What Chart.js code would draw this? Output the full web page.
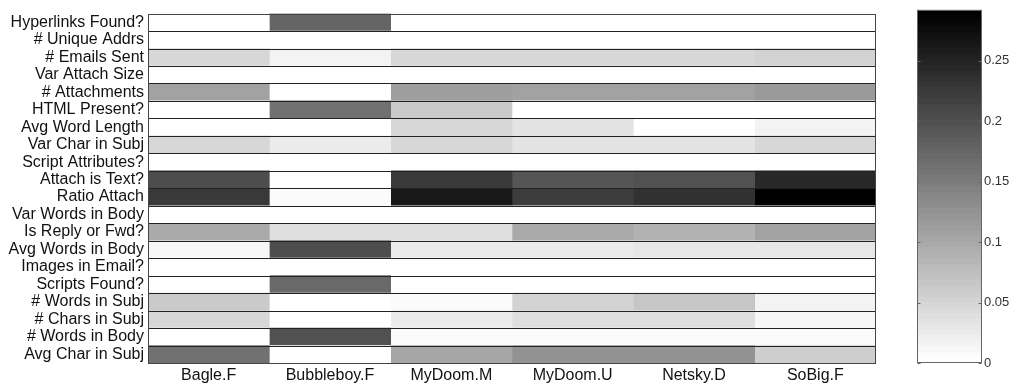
<!DOCTYPE html>
<html>
<head>
<meta charset="utf-8">
<script src="https://cdn.jsdelivr.net/npm/chart.js@4/dist/chart.umd.min.js"></script>
<style>
  html, body { margin: 0; padding: 0; background: #fff; }
  #wrap { position: relative; width: 1011px; height: 385px; }
  #heat { position: absolute; left: 0; top: 0; }
  #bar { position: absolute; left: 900px; top: 0; }
</style>
</head>
<body>
<div id="wrap">
  <canvas id="heat" width="1011" height="385"></canvas>
  <canvas id="bar" width="111" height="385"></canvas>
</div>
<script>
// Feature rows (top to bottom) and malware columns (left to right)
const features = [
  'Hyperlinks Found?', '# Unique Addrs', '# Emails Sent', 'Var Attach Size',
  '# Attachments', 'HTML Present?', 'Avg Word Length', 'Var Char in Subj',
  'Script Attributes?', 'Attach is Text?', 'Ratio Attach', 'Var Words in Body',
  'Is Reply or Fwd?', 'Avg Words in Body', 'Images in Email?', 'Scripts Found?',
  '# Words in Subj', '# Chars in Subj', '# Words in Body', 'Avg Char in Subj'
];
const malware = ['Bagle.F', 'Bubbleboy.F', 'MyDoom.M', 'MyDoom.U', 'Netsky.D', 'SoBig.F'];

// Feature weights per malware, in feature order
const bagleF     = [0, 0, 0.049, 0, 0.109, 0, 0, 0.049, 0, 0.205, 0.228, 0, 0.097, 0.010, 0, 0, 0.063, 0.049, 0, 0.161];
const bubbleboyF = [0.175, 0, 0.015, 0, 0, 0.164, 0, 0.024, 0, 0, 0.006, 0, 0.038, 0.205, 0, 0.173, 0, 0, 0.200, 0];
const myDoomM    = [0, 0, 0.047, 0, 0.111, 0.063, 0.047, 0.047, 0, 0.226, 0.262, 0, 0.038, 0.024, 0, 0, 0.006, 0.024, 0.006, 0.104];
const myDoomU    = [0, 0, 0.047, 0, 0.106, 0, 0.033, 0.035, 0, 0.195, 0.221, 0, 0.097, 0.024, 0, 0, 0.054, 0.040, 0.006, 0.127];
const netskyD    = [0, 0, 0.047, 0, 0.106, 0, 0, 0.035, 0, 0.200, 0.235, 0, 0.090, 0.029, 0, 0, 0.068, 0.038, 0.008, 0.127];
const soBigF     = [0, 0, 0.054, 0, 0.116, 0, 0.015, 0.047, 0, 0.246, 0.292, 0, 0.106, 0.031, 0, 0, 0.015, 0.013, 0.008, 0.056];

const columns = [bagleF, bubbleboyF, myDoomM, myDoomU, netskyD, soBigF];

// Colour scale range and colourbar tick labels
const scaleMin = 0;
const scaleMax = 0.292;
const barTicks = [0, 0.05, 0.1, 0.15, 0.2, 0.25];

const FONT = "'Liberation Sans', Arial, Helvetica, sans-serif";
const LEVELS = 64;

// Inverted gray colormap, quantised to 64 levels
function grayFor(v) {
  let t = (v - scaleMin) / (scaleMax - scaleMin);
  t = Math.min(1, Math.max(0, t));
  const idx = Math.min(LEVELS - 1, Math.floor(t * LEVELS));
  const g = Math.round(255 * (1 - idx / (LEVELS - 1)));
  return `rgb(${g},${g},${g})`;
}

// Each cell is a floating bar spanning one column slot on the x scale
const heatDatasets = columns.map((vals, c) => ({
  label: malware[c],
  data: features.map(() => [c, c + 1]),
  backgroundColor: ctx => grayFor(vals[ctx.dataIndex]),
  borderWidth: 0,
  barPercentage: 1,
  categoryPercentage: 1,
  grouped: false
}));

// Row separators and plot frame
const frame = {
  id: 'frame',
  afterDatasetsDraw(chart) {
    const a = chart.chartArea;
    const ctx = chart.ctx;
    ctx.save();
    ctx.strokeStyle = '#222';
    ctx.lineWidth = 1;
    const n = features.length;
    for (let i = 0; i <= n; i++) {
      const y = Math.round(a.top + (a.bottom - a.top) * i / n) + 0.5;
      ctx.beginPath();
      ctx.moveTo(a.left, y);
      ctx.lineTo(a.right, y);
      ctx.stroke();
    }
    ctx.strokeStyle = '#444';
    ctx.strokeRect(Math.round(a.left) + 0.5, Math.round(a.top) + 0.5,
                   Math.round(a.right - a.left) - 1, Math.round(a.bottom - a.top));
    ctx.restore();
  }
};

new Chart(document.getElementById('heat'), {
  type: 'bar',
  data: { labels: features, datasets: heatDatasets },
  options: {
    indexAxis: 'y',
    responsive: false,
    animation: false,
    layout: { padding: { left: 0, right: 135, top: 10, bottom: 0 } },
    plugins: { legend: { display: false }, tooltip: { enabled: false } },
    scales: {
      x: { type: 'linear', min: 0, max: malware.length, display: false },
      xNames: {
        type: 'category', labels: malware, position: 'bottom', offset: true,
        grid: { display: false, drawTicks: false }, border: { display: false },
        ticks: { color: '#111', font: { family: FONT, size: 16 }, padding: 3, maxRotation: 0 },
        afterFit: s => { s.height = 22; }
      },
      y: {
        type: 'category', offset: true,
        grid: { display: false, drawTicks: false }, border: { display: false },
        ticks: { color: '#111', font: { family: FONT, size: 16 }, padding: 4, autoSkip: false },
        afterFit: s => { s.width = 148; }
      }
    }
  },
  plugins: [frame]
});

// Colourbar frame with inward tick marks on both edges
const barFrame = {
  id: 'barFrame',
  afterDatasetsDraw(chart) {
    const a = chart.chartArea;
    const ctx = chart.ctx;
    const ys = chart.scales.y;
    ctx.save();
    ctx.strokeStyle = '#666';
    ctx.lineWidth = 1;
    const L = Math.round(a.left) + 0.5, R = Math.round(a.right) - 0.5;
    ctx.strokeRect(L, Math.round(a.top) + 0.5, R - L, Math.round(a.bottom - a.top) - 1);
    barTicks.forEach(v => {
      const y = Math.round(ys.getPixelForValue(v)) + 0.5;
      ctx.beginPath();
      ctx.moveTo(L, y); ctx.lineTo(L + 3, y);
      ctx.moveTo(R, y); ctx.lineTo(R - 3, y);
      ctx.stroke();
    });
    ctx.restore();
  }
};

new Chart(document.getElementById('bar'), {
  type: 'bar',
  data: {
    labels: [''],
    datasets: [{
      data: [[scaleMin, scaleMax]],
      borderWidth: 0,
      barPercentage: 1,
      categoryPercentage: 1,
      backgroundColor: ctx => {
        const a = ctx.chart.chartArea;
        if (!a) return '#888';
        const g = ctx.chart.ctx.createLinearGradient(0, a.bottom, 0, a.top);
        for (let i = 0; i < LEVELS; i++) {
          const c = Math.round(255 * (1 - i / (LEVELS - 1)));
          const col = `rgb(${c},${c},${c})`;
          g.addColorStop(i / LEVELS, col);
          g.addColorStop((i + 1) / LEVELS - 1e-6, col);
        }
        return g;
      }
    }]
  },
  options: {
    responsive: false,
    animation: false,
    layout: { padding: { left: 17, right: 0, top: 9, bottom: 22 } },
    plugins: { legend: { display: false }, tooltip: { enabled: false } },
    scales: {
      x: { display: false },
      y: {
        position: 'right', min: scaleMin, max: scaleMax,
        grid: { display: false, drawTicks: false }, border: { display: false },
        afterBuildTicks: s => { s.ticks = barTicks.map(v => ({ value: v })); },
        ticks: { color: '#333', font: { family: FONT, size: 13 }, padding: 2,
                 callback: v => String(v) },
        afterFit: s => { s.width = 29; }
      }
    }
  },
  plugins: [barFrame]
});
</script>
</body>
</html>
